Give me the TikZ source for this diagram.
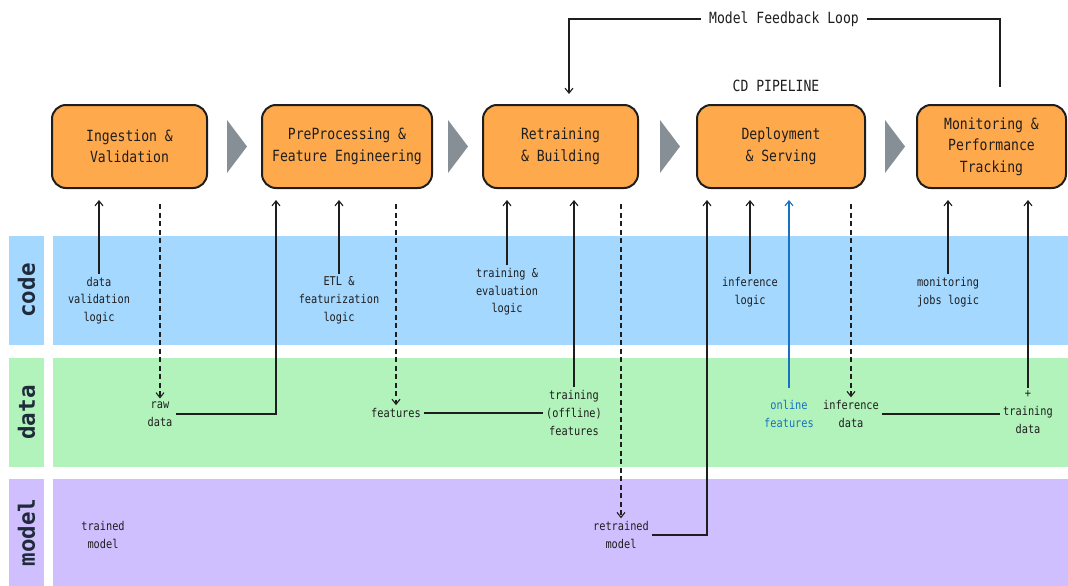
\documentclass[tikz,border=0pt]{standalone}
\usepackage{fontspec}
\newfontfamily\stagefont[FakeStretch=0.85]{DejaVu Sans Mono}
\newfontfamily\lanefont{DejaVu Sans Mono Bold}
\usetikzlibrary{arrows.meta}
\usetikzlibrary{positioning}
\definecolor{ink}{HTML}{1E1E1E}
\definecolor{laneink}{HTML}{1F2A3A}
\definecolor{stageorange}{HTML}{FFA94D}
\definecolor{chevrongray}{HTML}{868E96}
\definecolor{codeblue}{HTML}{A5D8FF}
\definecolor{datagreen}{HTML}{B2F2BB}
\definecolor{modelviolet}{HTML}{D0BFFF}
\definecolor{onlineblue}{HTML}{1971C2}
\tikzset{
	stage/.style={
		draw=ink,
		fill=stageorange,
		line width=2pt,
		rounded corners=14pt,
		minimum height=83pt,
		align=center,
		text=ink,
		font=\stagefont\fontsize{15.4}{21.5}\selectfont},
	note/.style={
		align=center,
		text=ink,
		inner sep=3pt,
		font=\stagefont\fontsize{12.1}{17.7}\selectfont},
	title/.style={
		text=ink,
		inner sep=8pt,
		font=\stagefont\fontsize{15.4}{21.5}\selectfont},
	lanetag/.style={
		rotate=90,
		minimum width=#1,
		minimum height=35pt,
		inner sep=0pt,
		text=laneink,
		font=\lanefont\fontsize{22.5}{24}\selectfont},
	link/.style={
		draw=ink,
		line width=1.1pt,
		-{Straight Barb[length=5pt,width=8pt]}},
	flow/.style={
		link,
		dash pattern=on 5pt off 3.5pt},
	tie/.style={
		draw=ink,
		line width=1.1pt}
}

\begin{document}
\begin{tikzpicture}[x=1pt,y=-1pt]
	\useasboundingbox (0,0) rectangle (1068,586);

	% lanes
	\fill[codeblue] (53,236) rectangle (1068,345);
	\fill[datagreen] (53,358) rectangle (1068,467);
	\fill[modelviolet] (53,479) rectangle (1068,586);
	\node[lanetag=109pt, fill=codeblue] (codetag) at (26.5,290.5) {code};
	\node[lanetag=109pt, fill=datagreen] (datatag) at (26.5,412.5) {data};
	\node[lanetag=107pt, fill=modelviolet] (modeltag) at (26.5,532.5) {model};

	% pipeline stages
	\node[stage, minimum width=155pt] (ingest) at (129.5,146.5) {Ingestion \&\\Validation};
	\node[stage, minimum width=170pt] (prep) at (347,146.5) {PreProcessing \&\\Feature Engineering};
	\node[stage, minimum width=155pt] (retrain) at (560.5,146.5) {Retraining\\\& Building};
	\node[stage, minimum width=168pt] (deploy) at (781,146.5) {Deployment\\\& Serving};
	\node[stage, minimum width=149pt] (monitor) at (991.5,146.5) {Monitoring \&\\Performance\\Tracking};
	\foreach \x in {227,448,660,885}
		\fill[chevrongray] (\x,120) -- ++(20,26.5) -- ++(-20,26.5) -- cycle;

	\node[title] (loop) at (784,19) {Model Feedback Loop};
	\node[title] (cd) at (776,86) {CD PIPELINE};

	% code lane
	\node[note] (dvlogic) at (99,300.5) {data\\validation\\logic};
	\node[note] (etl) at (339,300.5) {ETL \&\\featurization\\logic};
	\node[note] (tevlogic) at (507,292) {training \&\\evaluation\\logic};
	\node[note] (inflogic) at (750,292) {inference\\logic};
	\node[note] (monlogic) at (948,292) {monitoring\\jobs logic};

	% data lane
	\node[note] (rawdata) at (160,414) {raw\\data};
	\node[note] (feats) at (396,413) {features};
	\node[note] (trainfeat) at (574,413) {training\\(offline)\\features};
	\node[note, text=onlineblue] (onlinefeat) at (789,414) {online\\features};
	\node[note] (infdata) at (851,414) {inference\\data};
	\node[note] (traindata) at (1028,412) {+\\training\\data};

	% model lane
	\node[note] (trained) at (103,535) {trained\\model};
	\node[note] (retrained) at (621,535) {retrained\\model};

	% code into the stages
	\draw[link, shorten >=11pt] (dvlogic.north) -- (dvlogic.north |- ingest.south);
	\draw[link, shorten >=11pt] (etl.north) -- (etl.north |- prep.south);
	\draw[link, shorten >=11pt] (tevlogic.north) -- (tevlogic.north |- retrain.south);
	\draw[link, shorten >=11pt] (inflogic.north) -- (inflogic.north |- deploy.south);
	\draw[link, shorten >=11pt] (monlogic.north) -- (monlogic.north |- monitor.south);

	% data between the stages
	\draw[flow, shorten <=15pt] (rawdata.north |- ingest.south) -- (rawdata.north);
	\draw[link, shorten >=11pt] (rawdata.east) -| ([xshift=-71pt]prep.south);
	\draw[flow, shorten <=15pt] (feats.north |- prep.south) -- (feats.north);
	\draw[tie] (feats.east) -- (feats.east -| trainfeat.west);
	\draw[link, shorten >=11pt] (trainfeat.north) -- (trainfeat.north |- retrain.south);
	\draw[flow, shorten <=15pt] (retrained.north |- retrain.south) -- (retrained.north);
	\draw[link, shorten >=11pt] (retrained.east) -| ([xshift=-74pt]deploy.south);
	\draw[link, draw=onlineblue, shorten <=9pt, shorten >=11pt] (onlinefeat.north) -- (onlinefeat.north |- deploy.south);
	\draw[flow, shorten <=15pt] (infdata.north |- deploy.south) -- (infdata.north);
	\draw[tie] (infdata.east) -- (infdata.east -| traindata.west);
	\draw[link, shorten >=11pt] (traindata.north) -- (traindata.north |- monitor.south);

	% feedback loop
	\draw[link, shorten >=10pt] (loop.west) -| ([xshift=8.5pt]retrain.north);
	\draw[tie, shorten >=17pt] (loop.east) -| ([xshift=8.5pt]monitor.north);
\end{tikzpicture}
\end{document}
